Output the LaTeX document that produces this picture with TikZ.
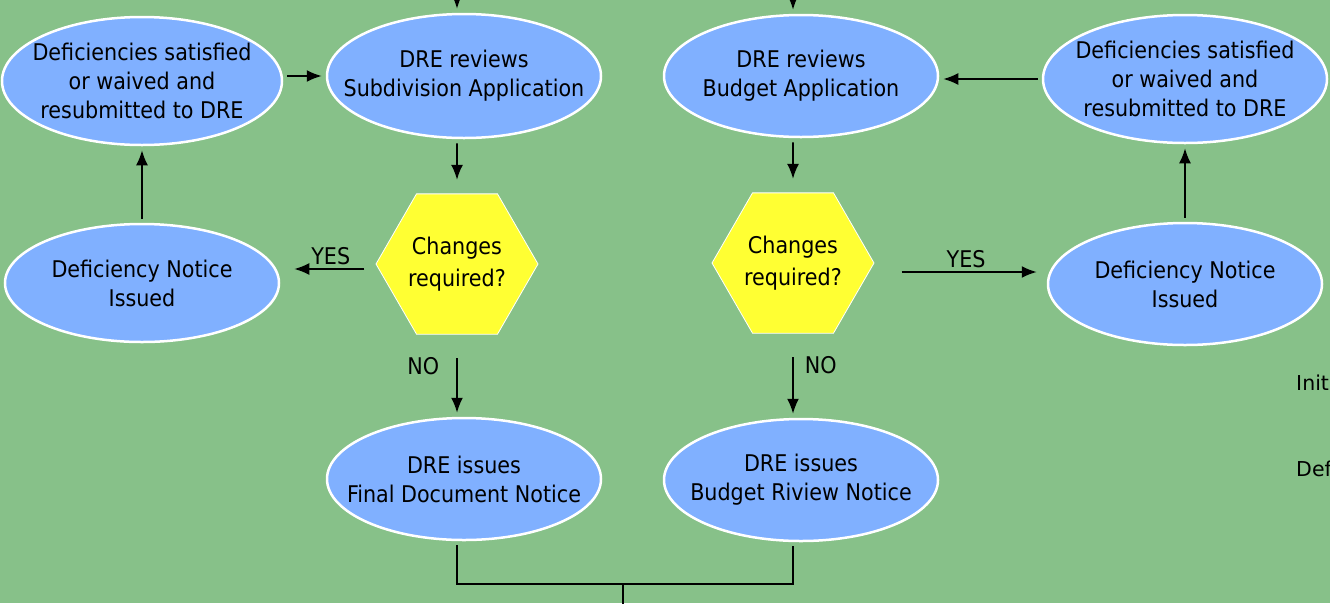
\documentclass[tikz,border=0pt]{standalone}
\usepackage{fontspec}
\setmainfont{DejaVu Sans Condensed}
\newfontfamily\plainfont{DejaVu Sans}
\usepackage{tikz}
\usetikzlibrary{arrows.meta,shapes.geometric,positioning,calc}
\definecolor{pagegreen}{RGB}{135,193,137}
\definecolor{stepblue}{RGB}{128,176,255}
\definecolor{askyellow}{RGB}{255,255,51}
\tikzset{
  stage/.style={ellipse,draw=white,line width=2.5pt,fill=stepblue,align=center,inner xsep=-45pt,inner ysep=0pt,font=\fontsize{23}{29}\selectfont},
  ask/.style={regular polygon,regular polygon sides=6,minimum size=162pt,inner sep=0pt,outer sep=10pt,fill=askyellow,draw=white,line width=0.8pt,align=center,font=\fontsize{23}{32}\selectfont},
  flow/.style={draw,line width=1.8pt,-{Latex[length=15pt,width=12pt]},shorten <=4pt,shorten >=4pt},
  tag/.style={font=\fontsize{23}{27}\selectfont,inner sep=3pt}
}

\begin{document}
\begin{tikzpicture}[x=1pt,y=-1pt]
\fill[pagegreen] (0,0) rectangle (1330,603);
\useasboundingbox (0,0) rectangle (1330,603);
% subdivision side
\node[stage,minimum width=280pt,minimum height=128pt] (fixA) at (142,81) {Deficiencies satisfied\\or waived and\\resubmitted to DRE};
\node[stage,minimum width=274pt,minimum height=124pt] (reviewA) at (464,76) {DRE reviews\\Subdivision Application};
\node[ask] (askA) at (457,264) {Changes\\required?};
\node[stage,minimum width=274pt,minimum height=118pt] (noticeA) at (142,283) {Deficiency Notice\\Issued};
\node[stage,minimum width=274pt,minimum height=122pt] (finalA) at (464,479) {DRE issues\\Final Document Notice};
% budget side
\node[stage,minimum width=274pt,minimum height=122pt] (reviewB) at (801,76) {DRE reviews\\Budget Application};
\node[stage,minimum width=284pt,minimum height=128pt] (fixB) at (1185,79) {Deficiencies satisfied\\or waived and\\resubmitted to DRE};
\node[ask] (askB) at (793,263) {Changes\\required?};
\node[stage,minimum width=274pt,minimum height=122pt] (noticeB) at (1185,284) {Deficiency Notice\\Issued};
\node[stage,minimum width=274pt,minimum height=122pt] (finalB) at (801,480) {DRE issues\\Budget Riview Notice};
% at the right edge
\node[anchor=base west,inner sep=0pt,font=\plainfont\fontsize{20.5}{25}\selectfont] (initTxt) at (1296,390) {Init};
\node[anchor=base west,inner sep=0pt,font=\plainfont\fontsize{20.5}{25}\selectfont] (defTxt) at (1296,476) {Def};

\coordinate (inA) at (457,-10);
\coordinate (inB) at (793,-10);
\coordinate (merge) at (623,584);
\coordinate (out) at (623,610);
\draw[flow] (inA) -- (inA |- reviewA.north);
\draw[flow] (inB) -- (inB |- reviewB.north);
\draw[flow] (fixA.east |- reviewA) -- (reviewA.west);
\draw[flow] (fixB.west) -- (fixB.west -| reviewB.east);
\draw[flow] (reviewA.south -| askA) -- (askA.north);
\draw[flow] (reviewB.south -| askB) -- (askB.north);
\draw[flow,shorten <=0pt,shorten >=14pt] ([yshift=-5pt]askA.west) -- node[tag,above,pos=0.4]{YES} ([yshift=-5pt]askA.west -| noticeA.east);
\draw[flow,shorten <=16pt,shorten >=10pt] ([yshift=-9pt]askB.east) -- node[tag,above]{YES} ([yshift=-9pt]askB.east -| noticeB.west);
\draw[flow,shorten <=14pt] (askA.south) -- node[tag,left=14pt,pos=0.3]{NO} (askA.south |- finalA.north);
\draw[flow,shorten <=14pt] (askB.south) -- node[tag,right=8pt,pos=0.3]{NO} (askB.south |- finalB.north);
\draw[flow] (noticeA) -- (fixA);
\draw[flow] (noticeB) -- (fixB);
\draw[line width=1.8pt] (finalA.south -| askA) ++(0,4) |- (merge) -| ([yshift=-4pt]finalB.south -| askB);
\draw[line width=1.8pt] (merge) -- (out);
\end{tikzpicture}
\end{document}
